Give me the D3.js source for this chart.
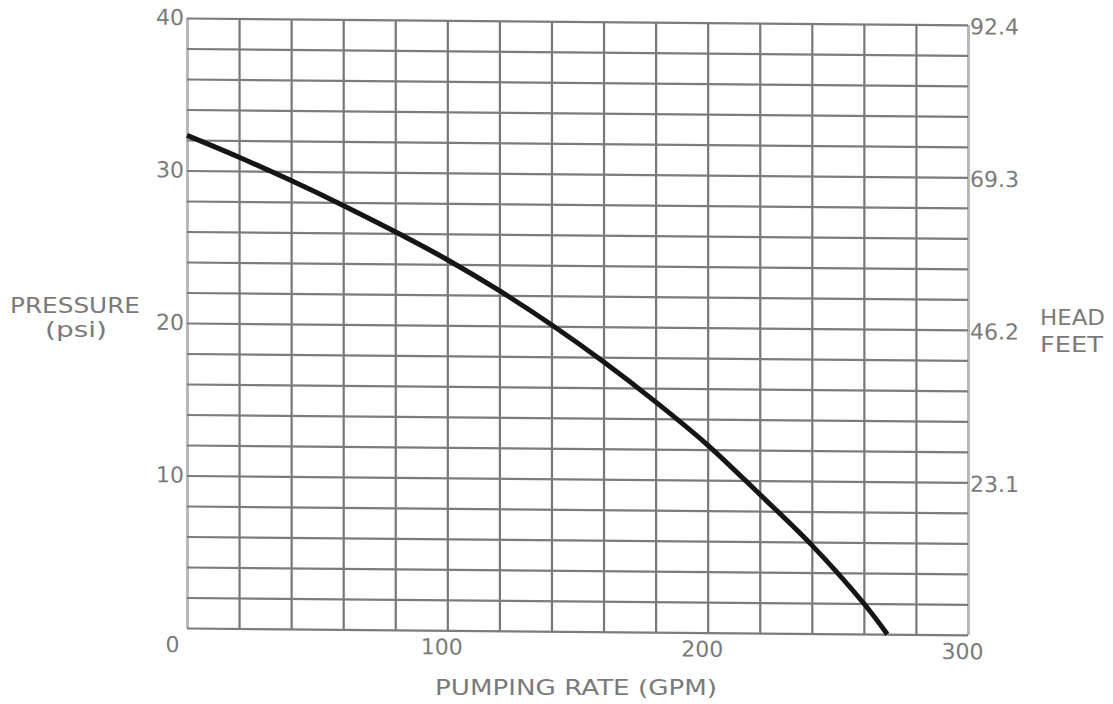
<!DOCTYPE html>
<html>
<head>
<meta charset="utf-8">
<script src="https://cdn.jsdelivr.net/npm/d3@7"></script>
<style>
  body { margin: 0; background: #fff; }
  svg { display: block; }
  text { font-family: "DejaVu Sans", sans-serif; fill: #7a7a7a; }
</style>
</head>
<body>
<div id="chart"></div>
<script>
// pump curve
const gpm = [0, 20, 40, 60, 80, 100, 120, 140, 160, 180, 200, 220, 240, 260, 269];
const psi = [32.3, 30.9, 29.4, 27.8, 26.1, 24.3, 22.3, 20.1, 17.7, 15.1, 12.3, 9.1, 5.8, 2.0, 0];
// tick labels
const xTicks = [0, 100, 200, 300];
const psiTicks = [10, 20, 30, 40];
const headTicks = [23.1, 46.2, 69.3, 92.4];

// chart constants
const W = 1113;
const H = 704;
const marginLeft = 187;
const marginTop = 18;
const w = 781;
const h = 610;
const skew = 0.51; // the scanned sheet is a touch crooked

const svg = d3.select('#chart')
    .append('svg')
    .attr('width', W)
    .attr('height', H);

// scales
const xScale = d3.scaleLinear().domain([0, 300]).range([0, w]);
const yScale = d3.scaleLinear().domain([0, 40]).range([h, 0]);
const headScale = d3.scaleLinear().domain([0, 92.4]).range([h, 0]);

const plot = svg.append('g')
    .attr('transform', `translate(${marginLeft},${marginTop}) skewY(${skew})`);

// grid: every 20 gpm and every 2 psi
const xGrid = d3.axisBottom(xScale).tickValues(d3.range(0, 301, 20)).tickSize(-h).tickFormat('');
const yGrid = d3.axisLeft(yScale).tickValues(d3.range(0, 41, 2)).tickSize(-w).tickFormat('');

plot.append('g')
    .attr('transform', `translate(0,${h})`)
    .call(xGrid)
    .call(g => g.select('.domain').remove())
    .selectAll('line')
    .attr('stroke', d => (d === 0 || d === 300) ? '#b8b8b8' : '#777')
    .attr('stroke-width', d => (d === 0 || d === 300) ? 3 : 2.2);

plot.append('g')
    .call(yGrid)
    .call(g => g.select('.domain').remove())
    .selectAll('line')
    .attr('stroke', '#7c7c7c')
    .attr('stroke-width', 2.2);

// the curve
const line = d3.line()
    .x((d, i) => xScale(gpm[i]))
    .y(d => yScale(d))
    .curve(d3.curveCatmullRom.alpha(0.5));

plot.append('path')
    .datum(psi)
    .attr('d', line)
    .attr('fill', 'none')
    .attr('stroke', '#151515')
    .attr('stroke-width', 5)
    .attr('stroke-linecap', 'butt');

// left axis labels (psi)
const yAxis = d3.axisLeft(yScale).tickValues(psiTicks).tickSize(0).tickPadding(3);
plot.append('g')
    .call(yAxis)
    .call(g => g.select('.domain').remove())
    .selectAll('text')
    .attr('font-size', 22)
    .attr('font-family', '"DejaVu Sans", sans-serif')
    .attr('fill', '#7a7a7a')
    .attr('dy', '0.3em');

// right axis labels (head feet)
const headAxis = d3.axisRight(headScale).tickValues(headTicks).tickFormat(d3.format('.1f')).tickSize(0).tickPadding(2);
plot.append('g')
    .attr('transform', `translate(${w},0)`)
    .call(headAxis)
    .call(g => g.select('.domain').remove())
    .selectAll('text')
    .attr('font-size', 22)
    .attr('font-family', '"DejaVu Sans", sans-serif')
    .attr('fill', '#7a7a7a')
    .attr('dy', '0.4em');

// bottom axis labels (gpm)
const xAxis = d3.axisBottom(xScale).tickValues(xTicks).tickSize(0).tickPadding(0);
plot.append('g')
    .attr('transform', `translate(0,${h})`)
    .call(xAxis)
    .call(g => g.select('.domain').remove())
    .selectAll('text')
    .attr('font-size', 22)
    .attr('font-family', '"DejaVu Sans", sans-serif')
    .attr('fill', '#7a7a7a')
    .attr('x', d => d === 0 ? -8 : -6)
    .attr('text-anchor', d => d === 0 ? 'end' : 'middle')
    .attr('dy', '1.1em');

// axis titles
svg.append('text').text('PRESSURE')
    .attr('x', 10).attr('y', 313)
    .attr('font-size', 21)
    .attr('textLength', 130).attr('lengthAdjust', 'spacingAndGlyphs');
svg.append('text').text('(psi)')
    .attr('x', 45).attr('y', 337)
    .attr('font-size', 21)
    .attr('textLength', 62).attr('lengthAdjust', 'spacingAndGlyphs');
svg.append('text').text('HEAD')
    .attr('x', 1040).attr('y', 325)
    .attr('font-size', 21)
    .attr('textLength', 65).attr('lengthAdjust', 'spacingAndGlyphs');
svg.append('text').text('FEET')
    .attr('x', 1040).attr('y', 352)
    .attr('font-size', 21)
    .attr('textLength', 63).attr('lengthAdjust', 'spacingAndGlyphs');
svg.append('text').text('PUMPING RATE (GPM)')
    .attr('x', 435).attr('y', 695)
    .attr('font-size', 21)
    .attr('textLength', 282).attr('lengthAdjust', 'spacingAndGlyphs');
</script>
</body>
</html>
